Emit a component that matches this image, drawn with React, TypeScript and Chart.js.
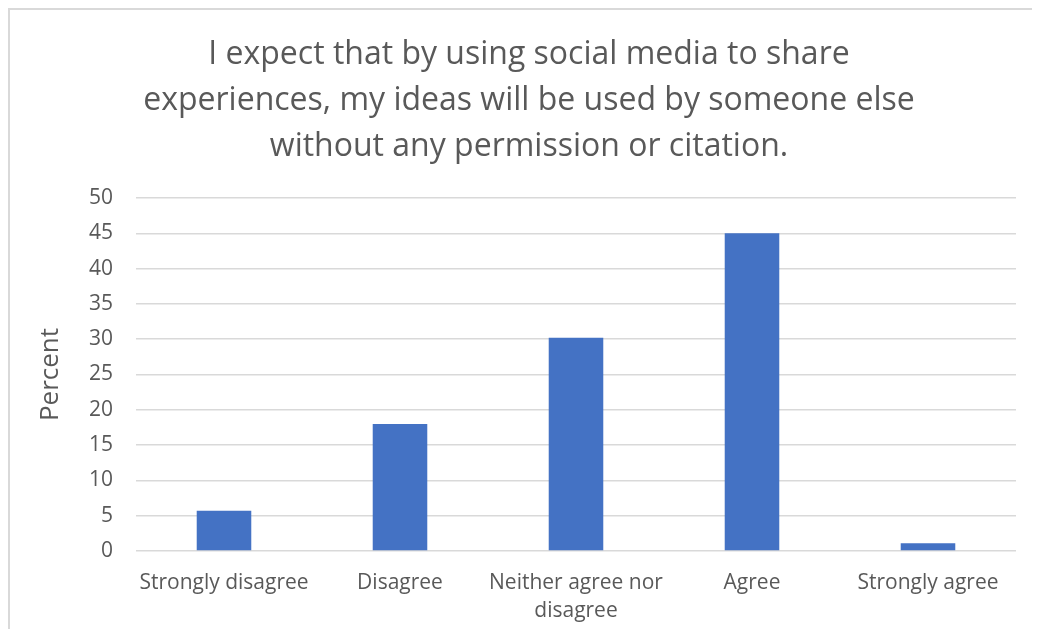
import React, { useEffect, useRef } from "react";
import { Chart, registerables } from "chart.js";

Chart.register(...registerables);

const titleLines = [
  "I expect that by using social media to share",
  "experiences, my ideas will be used by someone else",
  "without any permission or citation.",
];
const categories: (string | string[])[] = [
  "Strongly disagree",
  "Disagree",
  ["Neither agree nor", "disagree"],
  "Agree",
  "Strongly agree",
];
const percentValues = [5.7, 18, 30.2, 45, 1.1];
const yAxisTitle = "Percent";
const yMin = 0;
const yMax = 50;
const yStep = 5;

const FONT = "'Open Sans', sans-serif";
const GREY = "#595959";

export default function App() {
  const canvasRef = useRef<HTMLCanvasElement | null>(null);

  useEffect(() => {
    if (!canvasRef.current) return;
    const chart = new Chart(canvasRef.current, {
      type: "bar",
      data: {
        labels: categories,
        datasets: [
          {
            data: percentValues,
            backgroundColor: "#4472C4",
            borderWidth: 0,
            categoryPercentage: 1,
            barPercentage: 0.31,
          },
        ],
      },
      options: {
        responsive: false,
        animation: false,
        layout: { padding: { left: 32, right: 16, top: 0, bottom: 0 } },
        plugins: {
          legend: { display: false },
          tooltip: { enabled: false },
          title: {
            display: true,
            text: titleLines,
            color: GREY,
            font: { family: FONT, size: 32, weight: "normal", lineHeight: "46px" },
            padding: { top: 22, bottom: 28 },
          },
        },
        scales: {
          x: {
            grid: { display: false },
            border: { display: false },
            ticks: {
              color: GREY,
              font: { family: FONT, size: 21, lineHeight: "28px" },
              padding: 10,
              maxRotation: 0,
              autoSkip: false,
            },
            afterFit: (scale: any) => {
              scale.height = 78;
            },
          },
          y: {
            min: yMin,
            max: yMax,
            border: { display: false },
            grid: { color: "#d9d9d9", lineWidth: 1.5, drawTicks: false },
            ticks: {
              stepSize: yStep,
              color: GREY,
              font: { family: FONT, size: 21 },
              padding: 23,
            },
            title: {
              display: true,
              text: yAxisTitle,
              color: GREY,
              font: { family: FONT, size: 26, lineHeight: "18px" },
              padding: 0,
            },
            afterFit: (scale: any) => {
              scale.width = 94;
            },
          },
        },
      },
    });
    return () => chart.destroy();
  }, []);

  return (
    <div
      style={{
        width: 1022,
        height: 619,
        borderTop: "2px solid #d9d9d9",
        borderLeft: "2px solid #d9d9d9",
        background: "#fff",
      }}
    >
      <canvas ref={canvasRef} width={1022} height={619} style={{ display: "block" }} />
    </div>
  );
}
